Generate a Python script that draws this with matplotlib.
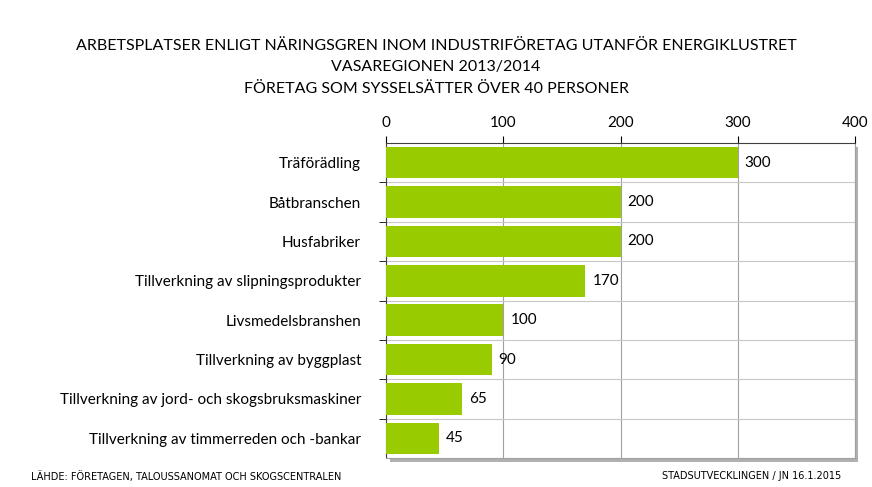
import matplotlib
matplotlib.use('Agg')
from matplotlib import pyplot as plt
from matplotlib.patches import Rectangle

categories = ['Träförädling', 'Båtbranschen', 'Husfabriker',
              'Tillverkning av slipningsprodukter', 'Livsmedelsbranshen',
              'Tillverkning av byggplast',
              'Tillverkning av jord- och skogsbruksmaskiner',
              'Tillverkning av timmerreden och -bankar']
values = [300, 200, 200, 170, 100, 90, 65, 45]
xticks = [0, 100, 200, 300, 400]

plt.rcParams['font.family'] = ['Lato', 'DejaVu Sans']

fig = plt.figure(figsize=(8.72, 4.87), dpi=100)
ax = fig.add_axes([0.4427, 0.0595, 0.5378, 0.6469])

ypos = list(range(len(categories)))
ax.barh(ypos, values, height=0.8, color='#99cc00', zorder=3)
for y, v in zip(ypos, values):
    ax.text(v + 6, y, str(v), va='center', ha='left', fontsize=11, zorder=4)

ax.set_xlim(0, 400)
ax.set_ylim(len(categories) - 0.5, -0.5)
ax.xaxis.tick_top()
ax.set_xticks(xticks)
ax.set_xticklabels([str(t) for t in xticks], fontsize=11)
ax.set_yticks(ypos)
ax.set_yticklabels(categories, fontsize=11)
ax.set_yticks([y + 0.5 for y in ypos[:-1]], minor=True)
ax.tick_params(axis='y', which='major', length=0, pad=18)
ax.tick_params(axis='y', which='minor', length=5, direction='out')
ax.tick_params(axis='x', length=5, direction='out', pad=4)
ax.grid(axis='x', color='#a0a0a0', linewidth=0.8, zorder=0)
ax.grid(axis='y', which='minor', color='#c8c8c8', linewidth=0.8, zorder=0)
for side in ['right', 'bottom']:
    ax.spines[side].set_color('#a0a0a0')
for side in ['left', 'top']:
    ax.spines[side].set_color('#404040')

# drop shadow on the plot frame
shadow = Rectangle((0.4427 + 0.004, 0.0595 - 0.008), 0.5378, 0.6469,
                   transform=fig.transFigure, facecolor='#b0b0b0',
                   edgecolor='none', zorder=-1)
fig.patches.append(shadow)
ax.set_facecolor('white')

fig.text(0.5, 0.905, 'ARBETSPLATSER ENLIGT NÄRINGSGREN INOM INDUSTRIFÖRETAG UTANFÖR ENERGIKLUSTRET',
         ha='center', va='center', fontsize=11.5)
fig.text(0.5, 0.862, 'VASAREGIONEN 2013/2014', ha='center', va='center', fontsize=11.5)
fig.text(0.5, 0.818, 'FÖRETAG SOM SYSSELSÄTTER ÖVER 40 PERSONER', ha='center', va='center', fontsize=11.5)

fig.text(0.035, 0.022, 'LÄHDE: FÖRETAGEN, TALOUSSANOMAT OCH SKOGSCENTRALEN',
         ha='left', va='center', fontsize=7, family='Liberation Sans Narrow')
fig.text(0.965, 0.022, 'STADSUTVECKLINGEN / JN 16.1.2015',
         ha='right', va='center', fontsize=7, family='Liberation Sans Narrow')

fig.savefig('out.png', dpi=100)
